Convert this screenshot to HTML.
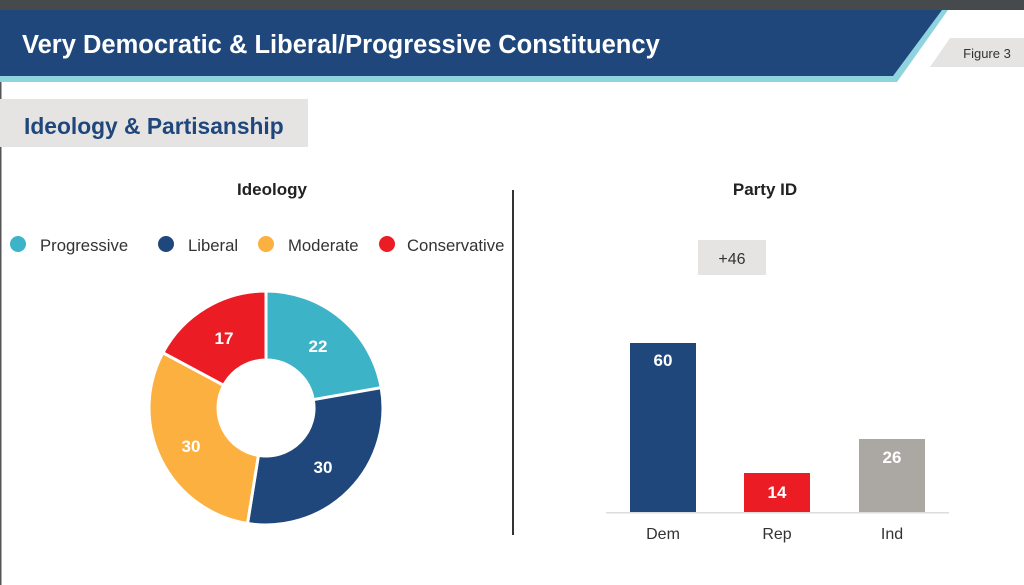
<!DOCTYPE html>
<html><head><meta charset="utf-8"><style>
html,body{margin:0;padding:0;background:#fff;}
body{width:1024px;height:585px;overflow:hidden;position:relative;font-family:"Liberation Sans",Arial,sans-serif;}
</style></head><body>
<svg width="1024" height="585" viewBox="0 0 1024 585" xmlns="http://www.w3.org/2000/svg" style="position:absolute;left:0;top:0;font-family:'Liberation Sans',Arial,sans-serif">
<rect x="0" y="0" width="1024" height="10" fill="#474a4d"/>
<rect x="0" y="10" width="1.5" height="575" fill="#555"/>
<polygon points="0,10 948,10 897,82 0,82" fill="#8fd3df"/>
<polygon points="0,10 942,10 893,76 0,76" fill="#1f477b"/>
<text x="22" y="53" font-size="25.5" font-weight="bold" fill="#fff">Very Democratic &amp; Liberal/Progressive Constituency</text>
<polygon points="950,38 1024,38 1024,67 930,67" fill="#e6e4e3"/>
<text x="987" y="58" font-size="13" fill="#333" text-anchor="middle">Figure 3</text>
<rect x="0" y="99" width="308" height="48" fill="#e6e4e3"/>
<text x="24" y="134" font-size="22.8" font-weight="bold" fill="#1f477b">Ideology &amp; Partisanship</text>
<text x="272" y="195" font-size="17" font-weight="bold" fill="#222" text-anchor="middle">Ideology</text>
<text x="765" y="195" font-size="17" font-weight="bold" fill="#222" text-anchor="middle">Party ID</text>
<rect x="512" y="190" width="2" height="345" fill="#333"/>
<g font-size="16.7" fill="#333">
<circle cx="18" cy="244" r="8" fill="#3db3c8"/><text x="40" y="251">Progressive</text>
<circle cx="166" cy="244" r="8" fill="#1f477b"/><text x="188" y="251">Liberal</text>
<circle cx="266" cy="244" r="8" fill="#fbb040"/><text x="288" y="251">Moderate</text>
<circle cx="387" cy="244" r="8" fill="#ec1c24"/><text x="407" y="251">Conservative</text>
</g>
<g stroke="#fff" stroke-width="3" stroke-linejoin="miter">
<path d="M266,291 A117,117 0 0 1 381.2,387.7 L313.3,399.7 A48,48 0 0 0 266,360 Z" fill="#3db3c8"/>
<path d="M381.2,387.7 A117,117 0 0 1 247.5,523.5 L258.4,455.4 A48,48 0 0 0 313.3,399.7 Z" fill="#1f477b"/>
<path d="M247.5,523.5 A117,117 0 0 1 162.9,352.7 L223.7,385.3 A48,48 0 0 0 258.4,455.4 Z" fill="#fbb040"/>
<path d="M162.9,352.7 A117,117 0 0 1 266,291 L266,360 A48,48 0 0 0 223.7,385.3 Z" fill="#ec1c24"/>
</g>
<g font-size="17" font-weight="bold" fill="#fff" text-anchor="middle">
<text x="318" y="352">22</text>
<text x="323" y="473">30</text>
<text x="191" y="452">30</text>
<text x="224" y="344">17</text>
</g>
<rect x="698" y="240" width="68" height="35" fill="#e6e4e3"/>
<text x="732" y="264" font-size="16" fill="#333" text-anchor="middle">+46</text>
<rect x="630" y="343" width="66" height="170" fill="#1f477b"/>
<rect x="744" y="473" width="66" height="40" fill="#ec1c24"/>
<rect x="859" y="439" width="66" height="74" fill="#aba7a3"/>
<rect x="606" y="512" width="343" height="1.5" fill="#ddd"/>
<g font-size="17" font-weight="bold" fill="#fff" text-anchor="middle">
<text x="663" y="366">60</text>
<text x="777" y="498">14</text>
<text x="892" y="463">26</text>
</g>
<g font-size="16" fill="#333" text-anchor="middle">
<text x="663" y="539">Dem</text>
<text x="777" y="539">Rep</text>
<text x="892" y="539">Ind</text>
</g>
</svg>
</body></html>
